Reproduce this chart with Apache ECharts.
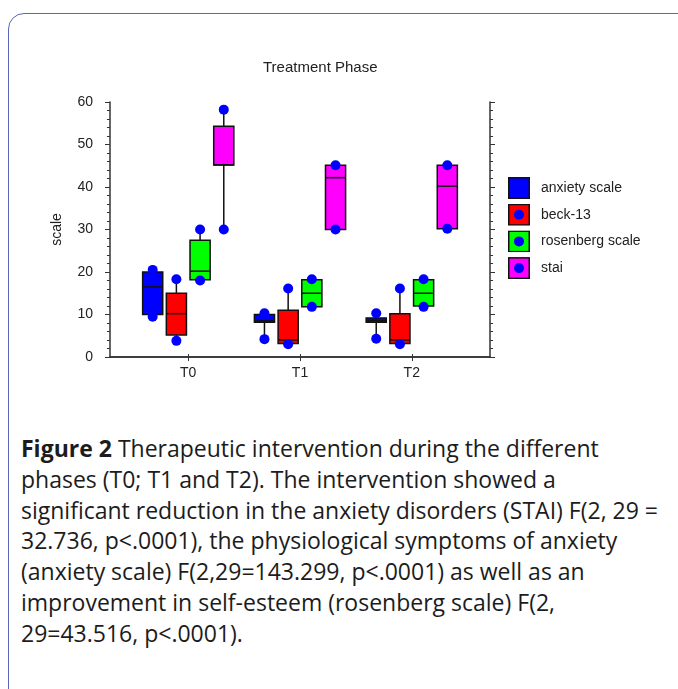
<!DOCTYPE html>
<html>
<head>
<meta charset="utf-8">
<script src="https://cdn.jsdelivr.net/npm/echarts@6/dist/echarts.min.js"></script>
<style>
  html, body { margin: 0; padding: 0; background: #fff; }
  #wrap { position: relative; width: 678px; height: 689px; overflow: hidden; }
  #frame {
    position: absolute; left: 8px; top: 13px; width: 720px; height: 720px;
    border: 1px solid #5a67b6; border-radius: 16px;
  }
  #chart { position: absolute; left: 0; top: 0; width: 678px; height: 420px; }
  #caption {
    position: absolute; left: 21px; top: 433px;
    font-family: 'Open Sans', sans-serif; font-size: 23px; line-height: 30.8px;
    color: #1c1c1c; white-space: nowrap;
  }
</style>
</head>
<body>
<div id="wrap">
  <div id="frame"></div>
  <div id="chart"></div>
  <div id="caption">
    <b>Figure 2</b> Therapeutic intervention during the different<br>
    phases (T0; T1 and T2). The intervention showed a<br>
    significant reduction in the anxiety disorders (STAI) F(2, 29 =<br>
    32.736, p&lt;.0001), the physiological symptoms of anxiety<br>
    (anxiety scale) F(2,29=143.299, p&lt;.0001) as well as an<br>
    improvement in self-esteem (rosenberg scale) F(2,<br>
    29=43.516, p&lt;.0001).
  </div>
</div>
<script>
const phases = ['T0', 'T1', 'T2'];
const seriesNames = ['anxiety scale', 'beck-13', 'rosenberg scale', 'stai'];
const seriesColors = ['#0000ff', '#ff0000', '#00ff00', '#ff00ff'];

// [min, Q1, median, Q3, max] for T0, T1, T2
const anxietyScale = [[9.5, 10, 16.5, 20, 20.5], [4.2, 8.2, 8.5, 10, 10.3], [4.3, 8.2, 8.6, 9.2, 10.3]];
const beck13 = [[3.8, 5.2, 10.2, 15, 18.3], [3, 3.2, 4, 11, 16.1], [3, 3.2, 4, 10.2, 16.1]];
const rosenbergScale = [[18, 18.2, 20.2, 27.5, 30], [11.8, 11.8, 15, 18.2, 18.3], [11.8, 12, 15, 18.2, 18.3]];
const stai = [[30, 45.2, 45.2, 54.3, 58.2], [30, 30, 42.2, 45.1, 45.1], [30.2, 30.2, 40.2, 45.1, 45.1]];

const allStats = [anxietyScale, beck13, rosenbergScale, stai];
const phaseTicks = [1, 2, 3];

const chart = echarts.init(document.getElementById('chart'));

const axisFont = { fontFamily: 'Liberation Sans', fontSize: 14, color: '#222' };
const frameLine = { lineStyle: { color: '#333', width: 1.5 } };

// box + whiskers + blue end points, offset per series inside each phase
function makeRender(idx) {
  return function (params, api) {
    const x = api.value(0);
    const band = api.size([1, 0])[0];
    const cx = api.coord([x, 0])[0] + (idx - 1.5) * band * 0.212;
    const half = band * 0.09;
    const y = (k) => api.coord([x, api.value(k)])[1];
    const yMin = y(1), yQ1 = y(2), yMed = y(3), yQ3 = y(4), yMax = y(5);
    const line = { stroke: '#111', lineWidth: 1.5 };
    return {
      type: 'group',
      children: [
        { type: 'line', shape: { x1: cx, y1: yQ3, x2: cx, y2: yMax }, style: line },
        { type: 'line', shape: { x1: cx, y1: yQ1, x2: cx, y2: yMin }, style: line },
        {
          type: 'rect',
          shape: { x: cx - half, y: yQ3, width: half * 2, height: yQ1 - yQ3 },
          style: { fill: api.visual('color'), stroke: '#111', lineWidth: 1.5 },
        },
        { type: 'line', shape: { x1: cx - half, y1: yMed, x2: cx + half, y2: yMed }, style: line },
        { type: 'circle', shape: { cx: cx, cy: yMin, r: 5 }, style: { fill: '#0000ff' } },
        { type: 'circle', shape: { cx: cx, cy: yMax, r: 5 }, style: { fill: '#0000ff' } },
      ],
    };
  };
}

// legend square with the blue point inside
const legendIcon = (color) =>
  'image://data:image/svg+xml;charset=utf-8,' +
  encodeURIComponent(
    "<svg xmlns='http://www.w3.org/2000/svg' width='22' height='22'>" +
      "<rect x='0.75' y='0.75' width='20.5' height='20.5' fill='" + color + "' stroke='#111' stroke-width='1.5'/>" +
      "<circle cx='11' cy='11' r='5' fill='#0000ff'/></svg>"
  );

const series = allStats.map((stats, i) => ({
  name: seriesNames[i],
  type: 'custom',
  renderItem: makeRender(i),
  itemStyle: { color: seriesColors[i] },
  encode: { x: 0, y: [1, 2, 3, 4, 5] },
  data: stats.map((s, p) => [phaseTicks[p]].concat(s)),
}));

chart.setOption({
  animation: false,
  title: {
    text: 'Treatment Phase',
    left: 263,
    top: 60,
    padding: 0,
    textStyle: { fontFamily: 'Liberation Sans', fontSize: 15, fontWeight: 'normal', color: '#222' },
  },
  legend: {
    orient: 'vertical',
    left: 508,
    top: 177,
    padding: 0,
    itemWidth: 22,
    itemHeight: 22,
    itemGap: 4.7,
    textStyle: { fontFamily: 'Liberation Sans', fontSize: 14, color: '#222', padding: [0, 0, 0, 6] },
    data: seriesNames.map((n, i) => ({ name: n, icon: legendIcon(seriesColors[i]) })),
  },
  grid: { left: 110, right: 188, top: 102, bottom: 63 },
  xAxis: [
    {
      type: 'value',
      min: 0.3,
      max: 3.7,
      position: 'bottom',
      axisLine: frameLine,
      axisTick: { customValues: phaseTicks, length: 4, lineStyle: { color: '#333' } },
      axisLabel: { customValues: phaseTicks, formatter: (v) => phases[v - 1], margin: 9, ...axisFont },
      splitLine: { show: false },
    },
    {
      type: 'value',
      min: 0.3,
      max: 3.7,
      position: 'top',
      axisLine: frameLine,
      axisTick: { customValues: phaseTicks, length: 3, lineStyle: { color: '#333' } },
      axisLabel: { show: false },
      splitLine: { show: false },
    },
  ],
  yAxis: [
    {
      type: 'value',
      min: 0,
      max: 60,
      interval: 10,
      name: 'scale',
      nameLocation: 'middle',
      nameGap: 46,
      nameTextStyle: { fontFamily: 'Liberation Sans', fontSize: 14, color: '#222' },
      axisLine: { show: true, ...frameLine },
      axisTick: { show: true, length: 5, lineStyle: { color: '#333' } },
      minorTick: { show: true, splitNumber: 5, length: 3, lineStyle: { color: '#333' } },
      axisLabel: { margin: 17, ...axisFont },
      splitLine: { show: false },
    },
    {
      type: 'value',
      min: 0,
      max: 60,
      interval: 10,
      position: 'right',
      axisLine: { show: true, ...frameLine },
      axisTick: { show: true, length: 5, lineStyle: { color: '#333' } },
      minorTick: { show: true, splitNumber: 5, length: 3, lineStyle: { color: '#333' } },
      axisLabel: { show: false },
      splitLine: { show: false },
    },
  ],
  series: series,
});
</script>
</body>
</html>
